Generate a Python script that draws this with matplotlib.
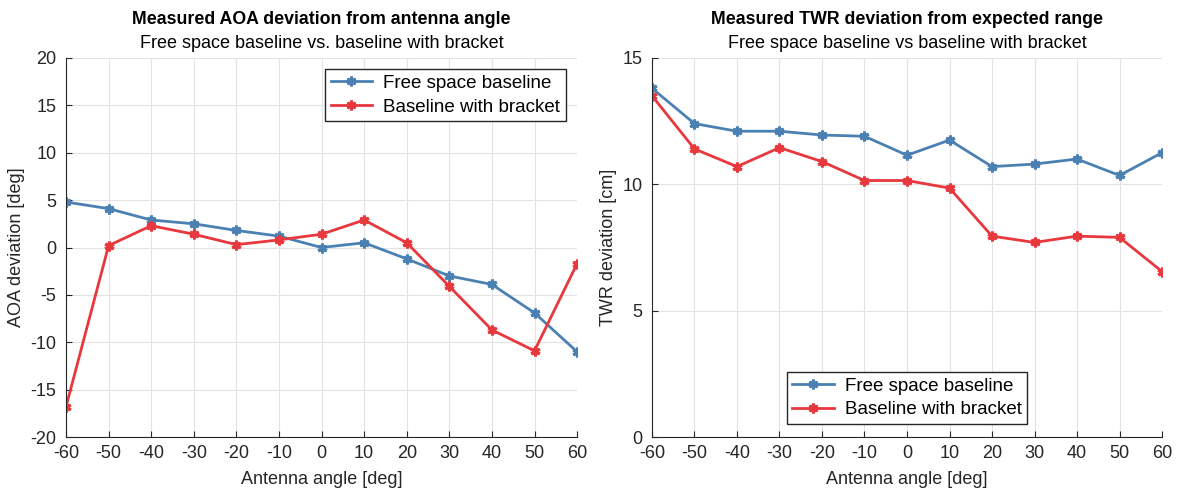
import numpy as np
import matplotlib
matplotlib.use("Agg")
import matplotlib.pyplot as plt

plt.rcParams['font.family'] = ['Liberation Sans', 'DejaVu Sans']
plt.rcParams['axes.unicode_minus'] = False

angles = [-60, -50, -40, -30, -20, -10, 0, 10, 20, 30, 40, 50, 60]

# AOA deviation [deg]
aoa_free = [4.8, 4.1, 2.9, 2.5, 1.8, 1.2, 0.0, 0.5, -1.2, -3.0, -3.9, -6.9, -11.0]
aoa_bracket = [-16.8, 0.2, 2.3, 1.4, 0.3, 0.8, 1.4, 2.9, 0.5, -4.1, -8.7, -10.9, -1.7]

# TWR deviation [cm]
twr_free = [13.8, 12.4, 12.1, 12.1, 11.95, 11.9, 11.15, 11.75, 10.7, 10.8, 11.0, 10.35, 11.25]
twr_bracket = [13.5, 11.4, 10.7, 11.45, 10.9, 10.15, 10.15, 9.85, 7.95, 7.7, 7.95, 7.9, 6.55]

BLUE = '#4b81b2'
RED = '#e8383d'
TXT = '#262626'

fig = plt.figure(figsize=(11.85, 4.95), dpi=100)
ax1 = fig.add_axes([0.0557, 0.117, 0.4313, 0.766])
ax2 = fig.add_axes([0.5502, 0.117, 0.4304, 0.766])

mk = dict(marker=(6, 2, 0), markersize=7, markeredgewidth=2.2, linewidth=2)


def style(ax):
    ax.grid(True, color='#e3e3e3', linewidth=0.8)
    ax.set_axisbelow(True)
    for s in ['top', 'right']:
        ax.spines[s].set_visible(False)
    for s in ['left', 'bottom']:
        ax.spines[s].set_color(TXT)
        ax.spines[s].set_linewidth(0.8)
    ax.tick_params(labelsize=13, direction='in', length=4, colors=TXT)
    ax.tick_params(axis='x', pad=6)
    ax.tick_params(axis='y', pad=7)
    ax.set_xlim(-60, 60)
    ax.set_xticks(angles)
    ax.set_xlabel('Antenna angle [deg]', fontsize=13, color=TXT, labelpad=6)


def titles(ax, title, sub):
    ax.text(0.5, 1.09, title, transform=ax.transAxes, ha='center', va='baseline',
            fontsize=12.8, fontweight='bold', color='black')
    ax.text(0.5, 1.025, sub, transform=ax.transAxes, ha='center', va='baseline',
            fontsize=13, color='black')


leg = dict(fontsize=13.5, fancybox=False, edgecolor=TXT, framealpha=1,
           handlelength=2.2, borderpad=0.3, labelspacing=0.35, handletextpad=0.6)

ax1.plot(angles, aoa_free, color=BLUE, label='Free space baseline', **mk)
ax1.plot(angles, aoa_bracket, color=RED, label='Baseline with bracket', **mk)
style(ax1)
ax1.set_ylim(-20, 20)
ax1.set_yticks(np.arange(-20, 21, 5))
ax1.set_ylabel('AOA deviation [deg]', fontsize=13, color=TXT)
ax1.legend(loc='upper right', borderaxespad=0.6, **leg)
titles(ax1, 'Measured AOA deviation from antenna angle',
       'Free space baseline vs. baseline with bracket')

ax2.plot(angles, twr_free, color=BLUE, label='Free space baseline', **mk)
ax2.plot(angles, twr_bracket, color=RED, label='Baseline with bracket', **mk)
style(ax2)
ax2.set_ylim(0, 15)
ax2.set_yticks([0, 5, 10, 15])
ax2.set_ylabel('TWR deviation [cm]', fontsize=13, color=TXT)
ax2.legend(loc='lower center', borderaxespad=0.7, **leg)
titles(ax2, 'Measured TWR deviation from expected range',
       'Free space baseline vs baseline with bracket')

fig.savefig('out.png', dpi=100)
